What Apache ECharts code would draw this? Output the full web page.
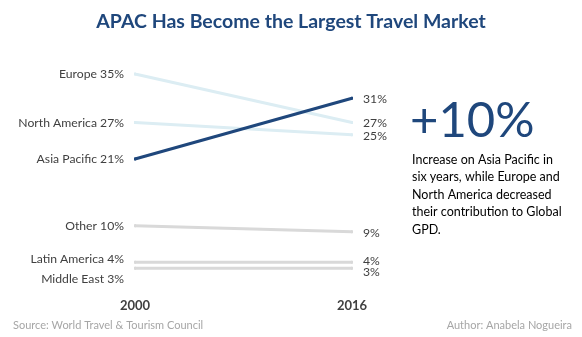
<!DOCTYPE html>
<html><head><meta charset="utf-8">
<script src="https://cdn.jsdelivr.net/npm/echarts@6/dist/echarts.min.js"></script>
<style>html,body{margin:0;padding:0;background:#fff}#c{width:582px;height:337px}</style>
</head><body><div id="c"></div>
<script>
const years = ['2000', '2016'];
const regions = ['Europe', 'North America', 'Asia Pacific', 'Other', 'Latin America', 'Middle East'];
const europe = [35, 27];
const northAmerica = [27, 25];
const asiaPacific = [21, 31];
const other = [10, 9];
const latinAmerica = [4, 4];
const middleEast = [3, 3];
const values = [europe, northAmerica, asiaPacific, other, latinAmerica, middleEast];
const colors = ['#dcedf3', '#dcedf3', '#1f477c', '#d9d9d9', '#d9d9d9', '#d9d9d9'];
const FONT = 'Lato, "Open Sans", sans-serif';

const labelOffsets = [
  [[0, 0], [0, 0]],
  [[0, 0], [0, 1]],
  [[0, 0], [0, 1]],
  [[0, 0], [0, 1]],
  [[0, -3], [0, -1]],
  [[0, 11], [0, 4]]
];

const chart = echarts.init(document.getElementById('c'), null, {renderer: 'canvas'});
const series = regions.map((name, i) => ({
  type: 'line', name,
  symbol: 'rect', symbolSize: [2, 3], showSymbol: true,
  itemStyle: {color: colors[i]},
  z: i === 2 ? 5 : 2,
  lineStyle: {color: colors[i], width: 3},
  label: {
    show: true,
    color: '#404040', fontSize: 12.2, fontFamily: FONT,
    formatter: p => p.dataIndex === 0 ? name + ' ' + p.value + '%' : p.value + '%'
  },
  data: values[i].map((v, j) => ({
    value: v,
    label: {show: true, position: j === 0 ? 'left' : 'right', distance: 10, offset: labelOffsets[i][j]}
  }))
}));

chart.setOption({
  animation: false,
  grid: {left: 135, right: 230, top: 74, bottom: 50.5, containLabel: false},
  xAxis: {
    type: 'category', data: years, boundaryGap: false,
    axisLine: {show: false}, axisTick: {show: false}, splitLine: {show: false},
    axisLabel: {fontWeight: 'bold', fontSize: 13, color: '#404040', fontFamily: FONT, margin: 13}
  },
  yAxis: {type: 'value', min: 0, max: 35, show: false, splitLine: {show: false}},
  series,
  graphic: [
    {type: 'text', left: 'center', top: 12, style: {text: 'APAC Has Become the Largest Travel Market', fontSize: 19.5, fontWeight: 'bold', fill: '#1f477c', fontFamily: FONT}},
    {type: 'text', left: 410, top: 97, style: {text: '+10%', fontSize: 49, fill: '#1f477c', fontFamily: FONT}},
    {type: 'text', left: 412, top: 151, style: {text: 'Increase on Asia Pacific in\nsix years, while Europe and\nNorth America decreased\ntheir contribution to Global\nGPD.', fontSize: 12.5, lineHeight: 17.5, fill: '#000', fontFamily: FONT}},
    {type: 'text', left: 13, top: 320, style: {text: 'Source: World Travel & Tourism Council', fontSize: 11, fill: '#a6a6a6', fontFamily: FONT}},
    {type: 'text', right: 10, top: 320, style: {text: 'Author: Anabela Nogueira', fontSize: 11, fill: '#a6a6a6', fontFamily: FONT}}
  ]
});
</script></body></html>
